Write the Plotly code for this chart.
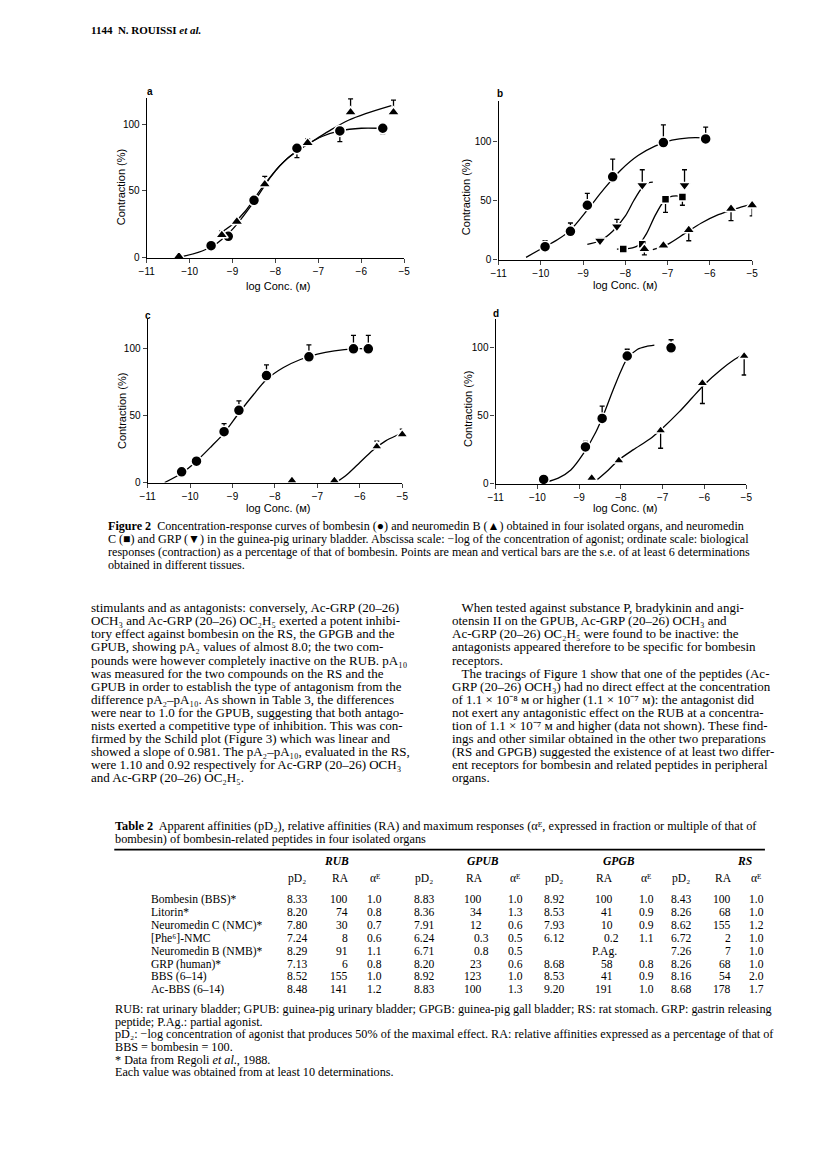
import plotly.graph_objects as go

W, H = 816, 1162

# ---------------- data ----------------
# panel a : rat urinary bladder
a_bbs_x = [-9.5, -9.1, -8.5, -7.5, -6.5, -5.5]
a_bbs_y = [9, 16, 43, 82, 95, 97]
a_bbs_dn = [0, 0, 2, 7, 8, 4]
a_nmb_x = [-10.25, -9.25, -8.9, -8.25, -7.25, -6.25, -5.25]
a_nmb_y = [1, 17, 27, 55, 86, 109, 109]
a_nmb_up = [0, 3, 0, 6, 3, 10, 9]
a_bbs_cx = [-10.15, -9.8, -9.5, -9.2, -8.9, -8.5, -8.1, -7.7, -7.3, -6.9, -6.5, -6.0, -5.6]
a_bbs_cy = [1, 4, 8, 15, 25, 42, 61, 75, 84, 91, 95, 97, 97]
a_nmb_cx = [-9.3, -9.0, -8.7, -8.3, -7.9, -7.5, -7.1, -6.7, -6.3, -5.9, -5.3]
a_nmb_cy = [18, 25, 35, 53, 69, 80, 88, 96, 103, 108, 114]

# panel b : guinea-pig urinary bladder
b_bbs_x = [-9.9, -9.3, -8.9, -8.3, -7.1, -6.1]
b_bbs_y = [11, 24, 46, 70, 99, 102]
b_bbs_up = [5, 7, 10, 15, 15, 10]
b_grp_x = [-8.6, -8.2, -7.6, -6.6]
b_grp_y = [16, 28, 63, 63]
b_grp_up = [2, 6, 13, 13]
b_nmc_x = [-8.05, -7.6, -7.05, -6.65]
b_nmc_y = [9, 13, 51, 53]
b_nmc_dn = [0, 0, 11, 7]
b_nmb_x = [-7.55, -7.1, -6.5, -5.5, -5.0]
b_nmb_y = [9, 12, 25, 43, 46]
b_nmb_dn = [5, 0, 9, 10, 9]
b_bbs_cx = [-10.35, -10.0, -9.6, -9.3, -8.9, -8.5, -8.1, -7.7, -7.3, -6.9, -6.5, -6.1]
b_bbs_cy = [2, 9, 17, 25, 42, 60, 76, 88, 96, 101, 103, 103]
b_grp_cx = [-8.9, -8.6, -8.3, -8.0, -7.8, -7.6, -7.45, -7.35]
b_grp_cy = [13, 16, 24, 37, 50, 61, 65, 65.5]
b_nmc_cx = [-8.2, -7.9, -7.7, -7.5, -7.3, -7.1, -6.95, -6.8, -6.65]
b_nmc_cy = [9, 9.5, 12, 22, 37, 49, 53, 54, 53]
b_nmb_cx = [-7.35, -7.0, -6.6, -6.2, -5.8, -5.4, -5.0]
b_nmb_cy = [8.5, 13, 22, 31, 38, 43, 47]

# panel c : guinea-pig gall bladder
c_bbs_x = [-10.2, -9.85, -9.2, -8.85, -8.2, -7.2, -6.15, -5.8]
c_bbs_y = [8, 16, 38, 54, 80, 94, 100, 100]
c_bbs_up = [0, 0, 6, 7, 8, 9, 10, 10]
c_nmb_x = [-7.6, -6.6, -5.6, -5.0]
c_nmb_y = [1.5, 1.5, 27, 36]
c_nmb_up = [0, 0, 4, 4]
c_bbs_cx = [-10.6, -10.2, -9.85, -9.5, -9.2, -8.85, -8.5, -8.2, -7.8, -7.4, -7.0, -6.6, -6.15, -5.8]
c_bbs_cy = [0, 7, 16, 27, 37, 52, 66, 77, 86, 92, 96, 98.5, 100, 100]
c_nmb_cx = [-6.56, -6.3, -6.0, -5.7, -5.4, -5.15, -5.0]
c_nmb_cy = [0, 6, 15, 24, 31, 35, 37]

# panel d : rat stomach
d_bbs_x = [-9.85, -8.85, -8.45, -7.85, -6.8]
d_bbs_y = [3, 27, 48, 94, 100]
d_bbs_up = [0, 4, 9, 5, 6]
d_nmb_x = [-8.7, -8.05, -7.05, -6.05, -5.05]
d_nmb_y = [4, 17, 39, 74, 94]
d_nmb_dn = [0, 0, 13, 15, 14]
d_bbs_cx = [-9.8, -9.5, -9.2, -8.9, -8.6, -8.4, -8.2, -8.0, -7.85, -7.6, -7.4, -7.2]
d_bbs_cy = [1, 4, 10, 22, 38, 52, 68, 83, 92, 99, 101, 102]
d_nmb_cx = [-8.6, -8.3, -8.07, -7.7, -7.3, -7.0, -6.6, -6.3, -6.0, -5.6, -5.3, -5.02]
d_nmb_cy = [2, 10, 17, 25, 33, 41, 53, 63, 73, 84, 91, 96]

x_ticks = [-11, -10, -9, -8, -7, -6, -5]
y_ticks = [0, 50, 100]

# table 2
peptides = ["Bombesin (BBS)*", "Litorin*", "Neuromedin C (NMC)*", "[Phe⁶]-NMC",
            "Neuromedin B (NMB)*", "GRP (human)*", "BBS (6–14)", "Ac-BBS (6–14)"]
rub_pd2 = ["8.33", "8.20", "7.80", "7.24", "8.29", "7.13", "8.52", "8.48"]
rub_ra = ["100", "74", "30", "8", "91", "6", "155", "141"]
rub_ae = ["1.0", "0.8", "0.7", "0.6", "1.1", "0.8", "1.0", "1.2"]
gpub_pd2 = ["8.83", "8.36", "7.91", "6.24", "6.71", "8.20", "8.92", "8.83"]
gpub_ra = ["100", "34", "12", "0.3", "0.8", "23", "123", "100"]
gpub_ae = ["1.0", "1.3", "0.6", "0.5", "0.5", "0.6", "1.0", "1.3"]
gpgb_pd2 = ["8.92", "8.53", "7.93", "6.12", "", "8.68", "8.53", "9.20"]
gpgb_ra = ["100", "41", "10", "0.2", "P.Ag.", "58", "41", "191"]
gpgb_ae = ["1.0", "0.9", "0.9", "1.1", "", "0.8", "0.9", "1.0"]
rs_pd2 = ["8.43", "8.26", "8.62", "6.72", "7.26", "8.26", "8.16", "8.68"]
rs_ra = ["100", "68", "155", "2", "7", "68", "54", "178"]
rs_ae = ["1.0", "1.0", "1.2", "1.0", "1.0", "1.0", "2.0", "1.7"]
organs = ["RUB", "GPUB", "GPGB", "RS"]
col_heads = ["pD₂", "RA", "αᴱ"]

# ---------------- figure ----------------
fig = go.Figure()
SANS = "Liberation Sans"
SERIF = "Liberation Serif"

panels = {
    # name: (x0px, x1px, ytop_px, ybot_px, ymax)
    "a": (133, 395, 90, 251, 120),
    "b": (491, 749, 93, 253, 134.5),
    "c": (134, 393, 313, 477, 122),
    "d": (488, 743, 313, 478, 121),
}
axis_ids = {"a": ("x", "y"), "b": ("x2", "y2"), "c": ("x3", "y3"), "d": ("x4", "y4")}


def curve(p, xs, ys):
    xa, ya = axis_ids[p]
    fig.add_trace(go.Scatter(x=xs, y=ys, mode="lines", xaxis=xa, yaxis=ya,
                             line=dict(color="black", width=1.3, shape="spline", smoothing=0.8),
                             hoverinfo="skip", showlegend=False, cliponaxis=False))


def points(p, xs, ys, symbol, size, up=None, dn=None):
    xa, ya = axis_ids[p]
    n = len(xs)
    err = dict(type="data", symmetric=False,
               array=up if up else [0] * n, arrayminus=dn if dn else [0] * n,
               color="black", thickness=1.3, width=2.5, visible=bool(up or dn))
    fig.add_trace(go.Scatter(x=xs, y=ys, mode="markers", xaxis=xa, yaxis=ya,
                             marker=dict(symbol=symbol, size=size, color="black",
                                         line=dict(color="white", width=1.5)),
                             error_y=err, showlegend=False, cliponaxis=False))


curve("a", a_bbs_cx, a_bbs_cy)
curve("a", a_nmb_cx, a_nmb_cy)
points("a", a_bbs_x, a_bbs_y, "circle", 11, dn=a_bbs_dn)
points("a", a_nmb_x, a_nmb_y, "triangle-up", 11, up=a_nmb_up)

curve("b", b_bbs_cx, b_bbs_cy)
curve("b", b_grp_cx, b_grp_cy)
curve("b", b_nmc_cx, b_nmc_cy)
curve("b", b_nmb_cx, b_nmb_cy)
points("b", b_bbs_x, b_bbs_y, "circle", 11, up=b_bbs_up)
points("b", b_grp_x, b_grp_y, "triangle-down", 11, up=b_grp_up)
points("b", b_nmc_x, b_nmc_y, "square", 8, dn=b_nmc_dn)
points("b", b_nmb_x, b_nmb_y, "triangle-up", 11, dn=b_nmb_dn)

curve("c", c_bbs_cx, c_bbs_cy)
curve("c", c_nmb_cx, c_nmb_cy)
points("c", c_bbs_x, c_bbs_y, "circle", 11, up=c_bbs_up)
points("c", c_nmb_x, c_nmb_y, "triangle-up", 10, up=c_nmb_up)

curve("d", d_bbs_cx, d_bbs_cy)
curve("d", d_nmb_cx, d_nmb_cy)
points("d", d_bbs_x, d_bbs_y, "circle", 11, up=d_bbs_up)
points("d", d_nmb_x, d_nmb_y, "triangle-up", 10, dn=d_nmb_dn)

layout = dict(width=W, height=H, margin=dict(l=0, r=0, t=0, b=0),
              paper_bgcolor="white", plot_bgcolor="white", showlegend=False)

for i, p in enumerate(["a", "b", "c", "d"]):
    x0, x1, yt, yb, ymax = panels[p]
    sfx = "" if i == 0 else str(i + 1)
    layout["xaxis" + sfx] = dict(domain=[x0 / W, x1 / W], range=[-11, -5], anchor="y" + sfx,
                                 tickvals=x_ticks, ticks="outside", ticklen=4, tickwidth=1.2,
                                 showline=True, linecolor="black", linewidth=1.3,
                                 showgrid=False, zeroline=False,
                                 tickfont=dict(family=SANS, size=10, color="black"))
    layout["yaxis" + sfx] = dict(domain=[1 - yb / H, 1 - yt / H], range=[0, ymax], anchor="x" + sfx,
                                 tickvals=y_ticks, ticks="outside", ticklen=4, tickwidth=1.2,
                                 showline=True, linecolor="black", linewidth=1.3,
                                 showgrid=False, zeroline=False,
                                 tickfont=dict(family=SANS, size=10, color="black"))
fig.update_layout(**layout)

ann = []


def txt(x, y, s, size=12, family=SERIF, xanchor="left", angle=0):
    ann.append(dict(x=x / W, y=1 - y / H, xref="paper", yref="paper",
                    text=s, showarrow=False, borderpad=0,
                    xanchor=xanchor, yanchor="middle", textangle=angle,
                    font=dict(family=family, size=size, color="black")))


# header
txt(75, 22, "<b>1144</b>  <b>N. ROUISSI <i>et al.</i></b>", size=11)

# panel letters and axis titles
for p, (lx, ly, tx, ty, yx, yy) in {
    "a": (136, 84, 267, 279, 107, 180),
    "b": (492, 86, 620, 278, 458, 190),
    "c": (134, 309, 267, 503, 108, 405),
    "d": (488, 307, 620, 503, 460, 403),
}.items():
    txt(lx, ly, "<b>" + p + "</b>", size=10, family=SANS, xanchor="center")
    txt(tx, ty, "log Conc. (м)", size=11, family=SANS, xanchor="center")
    txt(yx, yy, "Contraction (%)", size=11, family=SANS, xanchor="center", angle=-90)

# figure caption
caption = [
    "<b>Figure 2</b>  Concentration-response curves of bombesin (●) and neuromedin B (▲) obtained in four isolated organs, and neuromedin",
    "C (■) and GRP (▼) in the guinea-pig urinary bladder. Abscissa scale: −log of the concentration of agonist; ordinate scale: biological",
    "responses (contraction) as a percentage of that of bombesin. Points are mean and vertical bars are the s.e. of at least 6 determinations",
    "obtained in different tissues.",
]
for k, line in enumerate(caption):
    txt(93, 521 + 13 * k, line, size=12.1)

left_col = [
    "stimulants and as antagonists: conversely, Ac-GRP (20–26)",
    "OCH₃ and Ac-GRP (20–26) OC₂H₅ exerted a potent inhibi-",
    "tory effect against bombesin on the RS, the GPGB and the",
    "GPUB, showing pA₂ values of almost 8.0; the two com-",
    "pounds were however completely inactive on the RUB. pA₁₀",
    "was measured for the two compounds on the RS and the",
    "GPUB in order to establish the type of antagonism from the",
    "difference pA₂–pA₁₀. As shown in Table 3, the differences",
    "were near to 1.0 for the GPUB, suggesting that both antago-",
    "nists exerted a competitive type of inhibition. This was con-",
    "firmed by the Schild plot (Figure 3) which was linear and",
    "showed a slope of 0.981. The pA₂–pA₁₀, evaluated in the RS,",
    "were 1.10 and 0.92 respectively for Ac-GRP (20–26) OCH₃",
    "and Ac-GRP (20–26) OC₂H₅.",
]
right_col = [
    "   When tested against substance P, bradykinin and angi-",
    "otensin II on the GPUB, Ac-GRP (20–26) OCH₃ and",
    "Ac-GRP (20–26) OC₂H₅ were found to be inactive: the",
    "antagonists appeared therefore to be specific for bombesin",
    "receptors.",
    "   The tracings of Figure 1 show that one of the peptides (Ac-",
    "GRP (20–26) OCH₃) had no direct effect at the concentration",
    "of 1.1 × 10⁻⁸ м or higher (1.1 × 10⁻⁷ м): the antagonist did",
    "not exert any antagonistic effect on the RUB at a concentra-",
    "tion of 1.1 × 10⁻⁷ м and higher (data not shown). These find-",
    "ings and other similar obtained in the other two preparations",
    "(RS and GPGB) suggested the existence of at least two differ-",
    "ent receptors for bombesin and related peptides in peripheral",
    "organs.",
]
for k, line in enumerate(left_col):
    txt(75, 603 + 13.1 * k, line, size=13.0)
for k, line in enumerate(right_col):
    txt(443, 603 + 13.1 * k, line, size=13.0)

# table
txt(100, 822, "<b>Table 2</b>  Apparent affinities (pD₂), relative affinities (RA) and maximum responses (αᴱ, expressed in fraction or multiple of that of", size=12.3)
txt(100, 835, "bombesin) of bombesin-related peptides in four isolated organs", size=12.3)

shapes = [dict(type="line", xref="paper", yref="paper", x0=100 / W, x1=762 / W,
               y0=1 - 846 / H, y1=1 - 846 / H, line=dict(color="black", width=1.6))]

col_x = [286, 330, 365, 415, 466, 508, 547, 599, 641, 677, 720, 753]
group_x = [326, 475, 614, 741]
TF = 11.6
for g, gx in zip(organs, group_x):
    txt(gx, 858, "<b><i>" + g + "</i></b>", size=TF, xanchor="center")
for j, cx in enumerate(col_x):
    txt(cx, 875, col_heads[j % 3], size=TF, xanchor="center")

cols = [rub_pd2, rub_ra, rub_ae, gpub_pd2, gpub_ra, gpub_ae,
        gpgb_pd2, gpgb_ra, gpgb_ae, rs_pd2, rs_ra, rs_ae]
for r, name in enumerate(peptides):
    y = 896 + 13 * r
    txt(136, y, name, size=TF)
    for j, col in enumerate(cols):
        v = col[r]
        if not v:
            continue
        if j % 3 == 1:
            if v == "P.Ag.":
                txt(col_x[j], y, v, size=TF, xanchor="center")
            else:
                rx = col_x[j] + 9 + (7 if "." in v else 0)
                txt(rx, y, v, size=TF, xanchor="right")
        else:
            txt(col_x[j], y, v, size=TF, xanchor="center")

notes = [
    "RUB: rat urinary bladder; GPUB: guinea-pig urinary bladder; GPGB: guinea-pig gall bladder; RS: rat stomach. GRP: gastrin releasing",
    "peptide; P.Ag.: partial agonist.",
    "pD₂: −log concentration of agonist that produces 50% of the maximal effect. RA: relative affinities expressed as a percentage of that of",
    "BBS = bombesin = 100.",
    "* Data from Regoli <i>et al</i>., 1988.",
    "Each value was obtained from at least 10 determinations.",
]
for k, line in enumerate(notes):
    txt(100, 1006 + 12.8 * k, line, size=12.2)

fig.update_layout(annotations=ann, shapes=shapes)
fig.write_html("out.html")
